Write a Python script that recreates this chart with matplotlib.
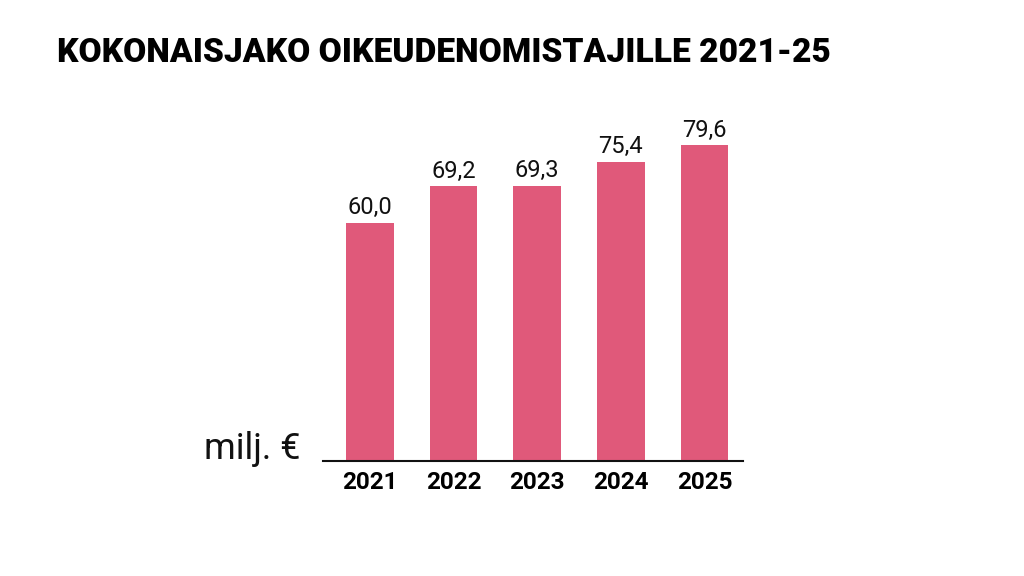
import matplotlib.pyplot as plt

years = ['2021', '2022', '2023', '2024', '2025']
values = [60.0, 69.2, 69.3, 75.4, 79.6]
value_labels = ['60,0', '69,2', '69,3', '75,4', '79,6']

bar_color = '#E0597A'

fig = plt.figure(figsize=(10.24, 5.76), dpi=100)
ax = fig.add_axes([0.3154, 0.1997, 0.4102, 0.689])

x = range(len(years))
bars = ax.bar(x, values, width=0.57, color=bar_color)

for b, lab in zip(bars, value_labels):
    ax.text(b.get_x() + b.get_width() / 2, b.get_height() + 0.9, lab,
            ha='center', va='bottom', fontsize=17, family='Roboto', color='#111111')

ax.set_xlim(-0.56, 4.46)
ax.set_ylim(0, 100)
ax.set_xticks(list(x))
ax.set_xticklabels(years, fontsize=17.5, fontweight='bold', family='Roboto')
ax.tick_params(axis='x', length=0, pad=7)
ax.set_yticks([])
for side in ['top', 'right', 'left']:
    ax.spines[side].set_visible(False)
ax.spines['bottom'].set_linewidth(1.5)
ax.spines['bottom'].set_color('#111111')

fig.text(0.293, 0.203, 'milj. €', ha='right', va='baseline', fontsize=26,
         family='Roboto', color='#111111')

title = fig.text(0.056, 0.893, 'KOKONAISJAKO OIKEUDENOMISTAJILLE 2021-25', ha='left',
                 va='baseline', fontsize=30, fontweight='black',
                 family='Roboto', color='black')

# scale the title so it spans the same width as in the original
fig.canvas.draw()
w = title.get_window_extent().width
title.set_fontsize(30 * 773 / w)

fig.savefig('out.png', dpi=100)
